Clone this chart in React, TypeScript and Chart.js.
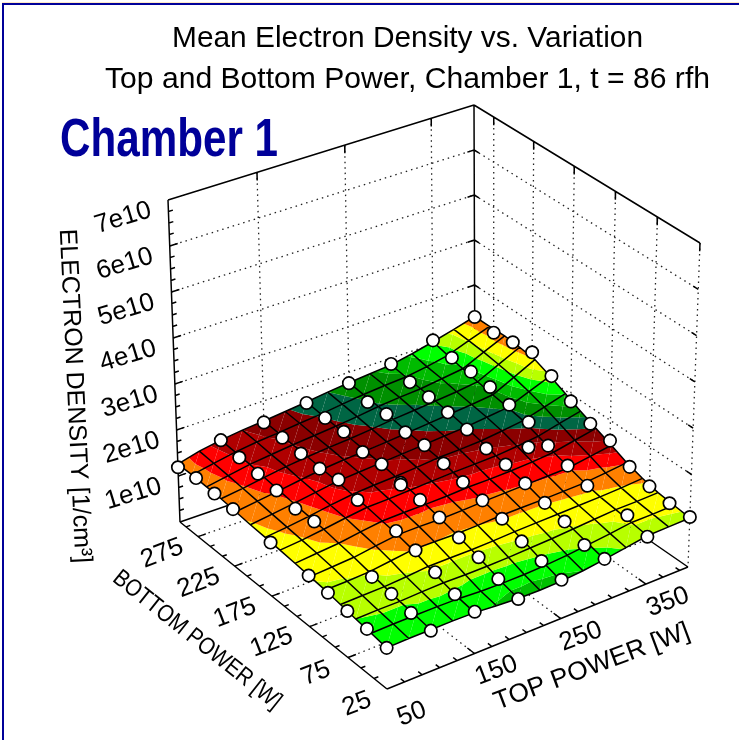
import React, { useEffect, useRef } from "react";
import { Chart, registerables } from "chart.js";

Chart.register(...registerables);

// ---------- DATA (density in units of 1e10 / cm3) ----------
const titleLines = ["Mean Electron Density vs. Variation", "Top and Bottom Power, Chamber 1, t = 86 rfh"];
const chamberLabel = "Chamber 1";
const zAxisTitle = "ELECTRON DENSITY [1/cm\u00B3]";
const bottomAxisTitle = "BOTTOM POWER [W]";
const topAxisTitle = "TOP POWER [W]";

const zTicks = [1, 2, 3, 4, 5, 6, 7];
const zTickLabels = ["1e10", "2e10", "3e10", "4e10", "5e10", "6e10", "7e10"];
const topTicks = [50, 150, 250, 350];
const bottomTicks = [25, 75, 125, 175, 225, 275];

const surfaceTop = [50, 75, 100, 125, 150, 175, 200, 225, 250, 275, 300, 325, 350, 375, 400];
const surfaceBottom = [25, 44.6, 64.3, 83.9, 103.6, 123.2, 142.9, 162.5, 182.1, 201.8, 221.4, 241.1, 260.7, 280.4, 300];
const surfaceZ = [
  [0.87, 0.88, 0.88, 0.88, 0.87, 0.83, 0.80, 0.79, 0.80, 0.84, 0.90, 0.97, 1.04, 1.05, 1.06],
  [0.92, 0.93, 0.93, 0.93, 0.92, 0.89, 0.88, 0.88, 0.90, 0.93, 0.98, 1.03, 1.09, 1.09, 1.10],
  [0.96, 0.97, 0.97, 0.99, 1.00, 0.99, 0.99, 1.00, 1.02, 1.04, 1.07, 1.10, 1.13, 1.13, 1.14],
  [1.01, 1.02, 1.03, 1.06, 1.10, 1.10, 1.10, 1.11, 1.13, 1.14, 1.15, 1.16, 1.17, 1.19, 1.22],
  [1.06, 1.07, 1.09, 1.15, 1.21, 1.20, 1.19, 1.20, 1.22, 1.22, 1.22, 1.23, 1.24, 1.28, 1.33],
  [1.09, 1.12, 1.15, 1.22, 1.28, 1.28, 1.27, 1.28, 1.30, 1.31, 1.32, 1.33, 1.34, 1.41, 1.48],
  [1.12, 1.16, 1.20, 1.27, 1.33, 1.34, 1.34, 1.35, 1.37, 1.37, 1.38, 1.40, 1.44, 1.53, 1.62],
  [1.15, 1.19, 1.25, 1.32, 1.38, 1.39, 1.41, 1.43, 1.45, 1.46, 1.47, 1.51, 1.56, 1.67, 1.77],
  [1.17, 1.22, 1.28, 1.35, 1.41, 1.44, 1.46, 1.49, 1.53, 1.54, 1.56, 1.61, 1.67, 1.80, 1.93],
  [1.19, 1.25, 1.31, 1.38, 1.45, 1.48, 1.51, 1.54, 1.57, 1.60, 1.63, 1.68, 1.73, 1.91, 2.09],
  [1.22, 1.28, 1.34, 1.41, 1.47, 1.51, 1.54, 1.57, 1.61, 1.65, 1.69, 1.73, 1.78, 2.00, 2.23],
  [1.25, 1.31, 1.38, 1.45, 1.50, 1.54, 1.57, 1.61, 1.66, 1.70, 1.74, 1.78, 1.84, 2.06, 2.28],
  [1.26, 1.34, 1.42, 1.47, 1.52, 1.56, 1.60, 1.65, 1.71, 1.75, 1.78, 1.84, 1.90, 2.11, 2.31],
  [1.27, 1.36, 1.44, 1.50, 1.54, 1.59, 1.63, 1.69, 1.74, 1.78, 1.81, 1.88, 1.97, 2.14, 2.30],
  [1.26, 1.38, 1.46, 1.52, 1.56, 1.61, 1.66, 1.72, 1.77, 1.81, 1.85, 1.94, 2.05, 2.17, 2.30],
];

const markerTop = [50, 100, 150, 200, 250, 300, 350, 400];
const markerBottom = [25, 50, 75, 100, 125, 150, 175, 200, 225, 250, 275, 300];
const markerZ = [
  [0.87, 0.86, 0.89, 0.79, 0.83, 0.91, 1.02, 1.08],
  [0.94, 0.91, 0.94, 0.90, 0.92, 0.90, 1.18, 1.08],
  [0.99, 0.99, 1.09, 1.05, 1.03, 1.10, null, 1.15],
  [1.05, 1.03, 1.24, 1.16, 1.21, 1.20, 1.22, 1.28],
  [1.09, null, 1.34, 1.28, 1.30, 1.32, 1.36, 1.56],
  [null, null, null, 1.35, 1.39, 1.43, 1.50, 1.64],
  [1.15, 1.26, 1.38, 1.41, 1.49, 1.48, 1.72, 1.84],
  [null, 1.22, 1.51, 1.51, 1.59, 1.60, 1.81, 2.11],
  [1.23, 1.30, 1.44, 1.47, 1.57, 1.68, 1.91, 2.35],
  [1.25, 1.35, 1.46, 1.61, 1.67, 1.72, 1.96, 2.29],
  [1.27, 1.39, 1.50, 1.61, 1.64, 1.76, 1.98, 2.22],
  [1.19, 1.46, 1.53, 1.64, 1.76, 1.87, 2.08, 2.29],
];
const replicateTop = [200, 350];
const replicateBottom = [175, 175];
const replicateZ = [1.37, 1.17];

const bandLevels = [0.84, 0.96, 1.08, 1.2, 1.32, 1.42, 1.52, 1.62, 1.72, 1.82, 1.92, 2.03, 2.13, 2.23];
const bandColors = [
  "#00c000", "#00ff00", "#b8ff00", "#ffff00", "#ff8000", "#ff0000", "#b00000", "#8b0000",
  "#006644", "#009000", "#00bb00", "#00ff00", "#b8ff00", "#ffff00", "#ff8000",
];

// ---------- VIEW (the box of the 3D plot on the sheet) ----------
const T_MIN = 50, T_MAX = 400, B_MIN = 25, B_MAX = 300, Z_MAX = 7;
const FLOOR = { front: [387, 689], right: [688, 567], left: [180, 522], back: [475, 420] };
const ROOF = { front: [384, 358], right: [700, 243], left: [168, 200], back: [474, 105] };
const warp = (a: number, k: number) => (a * (1 + k)) / (1 + k * a);

function project(t: number, b: number, z: number) {
  const u = warp((t - T_MIN) / (T_MAX - T_MIN), 0.025);
  const v = warp((b - B_MIN) / (B_MAX - B_MIN), 0.044);
  const w = z / Z_MAX;
  const mix = (c: any, i: number) =>
    (1 - v) * ((1 - u) * c.front[i] + u * c.right[i]) + v * ((1 - u) * c.left[i] + u * c.back[i]);
  return {
    x: (1 - w) * mix(FLOOR, 0) + w * mix(ROOF, 0),
    y: (1 - w) * mix(FLOOR, 1) + w * mix(ROOF, 1),
  };
}

const GAP = { x: NaN, y: NaN };

function segs(list: number[][][]) {
  const out: any[] = [];
  for (const s of list) {
    for (const p of s) out.push(project(p[0], p[1], p[2]));
    out.push(GAP);
  }
  return out;
}

function buildAxes() {
  const solid: number[][][] = [
    [[T_MIN, B_MIN, 0], [T_MAX, B_MIN, 0]],
    [[T_MIN, B_MIN, 0], [T_MIN, B_MAX, 0]],
    [[T_MIN, B_MAX, 0], [T_MIN, B_MAX, Z_MAX]],
    [[T_MIN, B_MAX, Z_MAX], [T_MAX, B_MAX, Z_MAX]],
    [[T_MAX, B_MAX, Z_MAX], [T_MAX, B_MIN, Z_MAX]],
    [[T_MAX, B_MAX, Z_MAX], [T_MAX, B_MAX, 0]],
    [[T_MIN, B_MAX, 0], [T_MAX, B_MAX, 0]],
    [[T_MAX, B_MIN, 0], [T_MAX, B_MAX, 0]],
  ];
  for (let i = 0; i <= 28; i++) {
    const z = i / 4;
    const major = i % 4 === 0;
    if (i > 0) {
      solid.push([[T_MIN, B_MAX, z], [T_MIN + (major ? 9 : 5), B_MAX, z]]);
    }
    if (major && i > 0 && i < 28) {
      solid.push([[T_MAX, B_MAX, z], [T_MAX - 8, B_MAX, z]]);
      solid.push([[T_MAX, B_MAX, z], [T_MAX, B_MAX - 6, z]]);
      solid.push([[T_MAX, B_MIN, z], [T_MAX, B_MIN + 6, z]]);
    }
  }
  for (let t = T_MIN; t <= T_MAX; t += 20) {
    const major = (t - 50) % 100 === 0;
    if (t > T_MIN) solid.push([[t, B_MIN, 0], [t, B_MIN + (major ? 9 : 5), 0]]);
  }
  for (let i = 0; i * 50 / 3 + B_MIN <= B_MAX; i++) {
    const b = B_MIN + (i * 50) / 3;
    const major = i % 3 === 0;
    if (i > 0) solid.push([[T_MIN, b, 0], [T_MIN + (major ? 9 : 5), b, 0]]);
  }
  for (const t of topTicks.slice(1)) {
    solid.push([[t, B_MAX, Z_MAX], [t, B_MAX, Z_MAX - 0.18]]);
  }
  for (const b of bottomTicks) {
    solid.push([[T_MAX, b, Z_MAX], [T_MAX, b, Z_MAX - 0.18]]);
  }
  return segs(solid);
}

function buildWalls() {
  const dotted: number[][][] = [];
  for (const z of zTicks.slice(0, -1)) {
    dotted.push([[T_MIN, B_MAX, z], [T_MAX, B_MAX, z]]);
    dotted.push([[T_MAX, B_MAX, z], [T_MAX, B_MIN, z]]);
  }
  for (const t of topTicks.slice(1)) {
    dotted.push([[t, B_MAX, Z_MAX], [t, B_MAX, 0]]);
    dotted.push([[t, B_MIN, 0], [t, B_MAX, 0]]);
  }
  dotted.push([[T_MAX, B_MIN, Z_MAX], [T_MAX, B_MIN, 0]]);
  for (const b of bottomTicks.slice(1)) {
    dotted.push([[T_MAX, b, Z_MAX], [T_MAX, b, 0]]);
    dotted.push([[T_MIN, b, 0], [T_MAX, b, 0]]);
  }
  return segs(dotted);
}

function buildMesh() {
  const lines: number[][][] = [];
  surfaceBottom.forEach((b, j) => lines.push(surfaceTop.map((t, i) => [t, b, surfaceZ[j][i]])));
  surfaceTop.forEach((t, i) => lines.push(surfaceBottom.map((b, j) => [t, b, surfaceZ[j][i]])));
  return segs(lines);
}

function buildMarkers() {
  const pts: any[] = [];
  markerBottom.forEach((b, j) =>
    markerTop.forEach((t, i) => {
      const z = markerZ[j][i];
      if (z !== null) pts.push(project(t, b, z));
    })
  );
  replicateTop.forEach((t, i) => pts.push(project(t, replicateBottom[i], replicateZ[i])));
  return pts;
}

type V = { t: number; b: number; z: number };

function clipPoly(poly: V[], level: number, above: boolean): V[] {
  const out: V[] = [];
  const inside = (p: V) => (above ? p.z >= level : p.z <= level);
  for (let i = 0; i < poly.length; i++) {
    const a = poly[i];
    const c = poly[(i + 1) % poly.length];
    if (inside(a)) out.push(a);
    if (inside(a) !== inside(c)) {
      const f = (level - a.z) / (c.z - a.z);
      out.push({ t: a.t + f * (c.t - a.t), b: a.b + f * (c.b - a.b), z: level });
    }
  }
  return out;
}

function drawSurface(chart: any) {
  const { ctx, scales } = chart;
  const fillTri = (tri: V[]) => {
    bandColors.forEach((color, k) => {
      let poly = tri;
      if (k > 0) poly = clipPoly(poly, bandLevels[k - 1], true);
      if (poly.length && k < bandLevels.length) poly = clipPoly(poly, bandLevels[k], false);
      if (poly.length < 3) return;
      ctx.beginPath();
      poly.forEach((p, n) => {
        const s = project(p.t, p.b, p.z);
        const px = scales.x.getPixelForValue(s.x);
        const py = scales.y.getPixelForValue(s.y);
        if (n === 0) ctx.moveTo(px, py);
        else ctx.lineTo(px, py);
      });
      ctx.closePath();
      ctx.fillStyle = color;
      ctx.fill();
    });
  };
  const node = (i: number, j: number): V => ({ t: surfaceTop[i], b: surfaceBottom[j], z: surfaceZ[j][i] });
  ctx.save();
  for (let j = 0; j < surfaceBottom.length - 1; j++) {
    for (let i = 0; i < surfaceTop.length - 1; i++) {
      fillTri([node(i, j), node(i + 1, j), node(i + 1, j + 1)]);
      fillTri([node(i, j), node(i + 1, j + 1), node(i, j + 1)]);
    }
  }
  ctx.restore();
}

function label(ctx: any, text: string, x: number, y: number, deg: number, font: string, width?: number, color = "#000") {
  ctx.save();
  ctx.translate(x, y);
  ctx.rotate((deg * Math.PI) / 180);
  ctx.font = font;
  ctx.fillStyle = color;
  ctx.textAlign = "center";
  ctx.textBaseline = "middle";
  if (width) ctx.scale(width / ctx.measureText(text).width, 1);
  ctx.fillText(text, 0, 0);
  ctx.restore();
}

const ARIAL = '"Liberation Sans", Arial, sans-serif';
const topLabelOffset = [[25, 25], [22, 17], [20, 18], [22, 18]];
const bottomLabelOffset = [[-30, 15], [-32, 16], [-38, 16], [-37, 17], [-36, 17], [-36, 17]];

const surfacePlugin = {
  id: "surfacePlugin",
  beforeDatasetDraw(chart: any, args: any) {
    if (chart.data.datasets[args.index].label === "mesh") drawSurface(chart);
  },
  afterDraw(chart: any) {
    const { ctx, scales } = chart;
    const at = (t: number, b: number, z: number) => {
      const s = project(t, b, z);
      return [scales.x.getPixelForValue(s.x), scales.y.getPixelForValue(s.y)];
    };
    ctx.save();
    ctx.fillStyle = "#ffe8c4";
    ctx.fillRect(2, 2, 737, 1);
    ctx.fillStyle = "#000099";
    ctx.fillRect(2, 3, 737, 2);
    ctx.fillRect(2, 3, 2, 737);
    ctx.restore();

    label(ctx, titleLines[0], 407.5, 39, 0, `29px ${ARIAL}`, 471);
    label(ctx, titleLines[1], 407.5, 80, 0, `29px ${ARIAL}`, 605);
    ctx.save();
    ctx.font = `bold 54px ${ARIAL}`;
    ctx.fillStyle = "#000099";
    ctx.textAlign = "left";
    ctx.textBaseline = "alphabetic";
    ctx.translate(60, 156);
    ctx.scale(218 / ctx.measureText(chamberLabel).width, 1);
    ctx.fillText(chamberLabel, 0, 0);
    ctx.restore();

    const tickFont = `26px ${ARIAL}`;
    zTicks.forEach((z, i) => {
      const [x, y] = at(T_MIN, B_MAX, z);
      label(ctx, zTickLabels[i], x - 45, y + 18, -17, tickFont);
    });
    topTicks.forEach((t, i) => {
      const [x, y] = at(t, B_MIN, 0);
      label(ctx, String(t), x + topLabelOffset[i][0], y + topLabelOffset[i][1], -21, tickFont);
    });
    bottomTicks.forEach((b, i) => {
      const [x, y] = at(T_MIN, b, 0);
      label(ctx, String(b), x + bottomLabelOffset[i][0], y + bottomLabelOffset[i][1], -21, tickFont);
    });
    label(ctx, zAxisTitle, 74.5, 396, 87.3, `25px ${ARIAL}`);
    label(ctx, bottomAxisTitle, 197, 640, 38.5, `24px ${ARIAL}`, 208);
    label(ctx, topAxisTitle, 592, 667, -20.5, `26px ${ARIAL}`, 207);
  },
};

export default function App() {
  const ref = useRef<HTMLCanvasElement | null>(null);
  useEffect(() => {
    if (!ref.current) return;
    const line = { showLine: true, pointRadius: 0, spanGaps: false, fill: false, tension: 0 };
    const chart = new Chart(ref.current, {
      type: "scatter",
      data: {
        datasets: [
          {
            label: "markers",
            data: buildMarkers(),
            pointRadius: 6.2,
            pointBackgroundColor: "#fff",
            pointBorderColor: "#000",
            pointBorderWidth: 1.7,
            showLine: false,
            order: 0,
          },
          { label: "mesh", data: buildMesh(), borderColor: "#000", borderWidth: 1.5, order: 1, ...line },
          { label: "axes", data: buildAxes(), borderColor: "#000", borderWidth: 1.5, order: 2, ...line },
          {
            label: "walls",
            data: buildWalls(),
            borderColor: "#222",
            borderWidth: 1.3,
            borderDash: [1.5, 4],
            order: 3,
            ...line,
          },
        ] as any,
      },
      options: {
        animation: false,
        responsive: false,
        layout: { padding: 0, autoPadding: false },
        plugins: { legend: { display: false }, title: { display: false }, tooltip: { enabled: false } },
        scales: {
          x: { type: "linear", min: 0, max: 739, display: false },
          y: { type: "linear", min: 0, max: 740, reverse: true, display: false },
        },
      },
      plugins: [surfacePlugin],
    } as any);
    return () => chart.destroy();
  }, []);
  return (
    <canvas
      ref={ref}
      width={739}
      height={740}
      style={{ position: "fixed", left: 0, top: 0, width: 739, height: 740, display: "block" }}
    />
  );
}
